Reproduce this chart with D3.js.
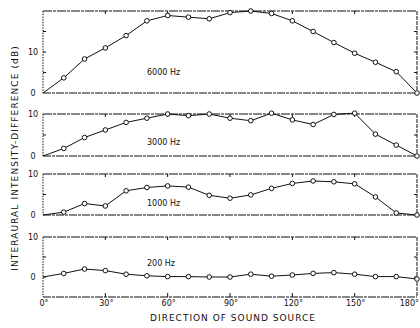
<!doctype html>
<html lang="en">
<head>
<meta charset="UTF-8">
<title>Interaural intensity difference</title>
<script src="https://cdn.jsdelivr.net/npm/d3@7"></script>
<style>
  body { margin: 0; background: #fff; }
  svg { display: block; font-family: "DejaVu Sans", Arial, sans-serif; }
  .frame line { stroke: #111; }
  .tick-lbl { font-size: 8px; fill: #111; }
</style>
</head>
<body>
<svg width="420" height="328"></svg>
<script>
// data, every 10 degrees
var angles = [0, 10, 20, 30, 40, 50, 60, 70, 80, 90, 100, 110, 120, 130, 140, 150, 160, 170, 180];
var db6000 = [0, 3.7, 8.3, 11.0, 14.0, 17.6, 18.9, 18.5, 18.1, 19.6, 20, 19.4, 17.6, 15.0, 12.3, 9.7, 7.5, 5.2, 0];
var db3000 = [0, 1.8, 4.4, 6.2, 8.0, 9.0, 10, 9.6, 10, 9.0, 8.4, 10.2, 8.6, 7.5, 9.9, 10.2, 5.2, 2.6, 0];
var db1000 = [0, 0.7, 2.8, 2.2, 5.9, 6.7, 7.1, 6.8, 4.8, 4.1, 4.9, 6.5, 7.7, 8.3, 8.1, 7.6, 4.4, 0.5, 0];
var db200  = [0, 0.9, 2.0, 1.6, 0.7, 0.3, 0.1, 0.1, 0, 0, 0.7, 0.2, 0.5, 0.9, 1.1, 0.7, 0.1, 0.1, -0.5];
var freqLabels = ['6000 Hz', '3000 Hz', '1000 Hz', '200 Hz'];
var xTicks = [0, 30, 60, 90, 120, 150, 180];

var svg = d3.select('svg');

var x = d3.scaleLinear().domain([0, 180]).range([43, 417]);

// panel layout (pixels) and value ranges
var panels = [
  { vals: db6000, dom: [0, 20], top: 11, bottom: 93, labels: [0, 10], minor: [5, 15], lx: 147, ly: 75 },
  { vals: db3000, dom: [0, 10], top: 114, bottom: 156, labels: [0, 10], minor: [5], lx: 147, ly: 145 },
  { vals: db1000, dom: [0, 10], top: 174, bottom: 215, labels: [0, 10], minor: [5], lx: 147, ly: 206 },
  { vals: db200, dom: [-5, 10], top: 237, bottom: 297, labels: [0, 10], minor: [5], lx: 147, ly: 266 }
];

var line = d3.line();

panels.forEach(function(p, i) {
  var y = d3.scaleLinear().domain(p.dom).range([p.bottom, p.top]);
  var g = svg.append('g').attr('class', 'frame');

  // frame
  g.append('line').attr('x1', x(0)).attr('x2', x(180)).attr('y1', p.top).attr('y2', p.top)
    .attr('stroke-width', 1.2).attr('stroke-dasharray', '9,1,3,1');
  g.append('line').attr('x1', x(0)).attr('x2', x(180)).attr('y1', p.bottom).attr('y2', p.bottom)
    .attr('stroke-width', 1.2).attr('stroke-dasharray', '8,1,3,1');
  g.append('line').attr('x1', x(0)).attr('x2', x(0)).attr('y1', p.top).attr('y2', p.bottom)
    .attr('stroke-width', 1).attr('stroke-dasharray', '1.5,1.2');
  g.append('line').attr('x1', x(180)).attr('x2', x(180)).attr('y1', p.top).attr('y2', p.bottom)
    .attr('stroke-width', 1).attr('stroke-dasharray', '4,1');

  // minor y ticks inside both sides
  p.minor.concat(p.labels.filter(function(v) { return v > p.dom[0] && v < p.dom[1]; })).forEach(function(v) {
    g.append('line').attr('x1', x(0)).attr('x2', x(0) + 3).attr('y1', y(v)).attr('y2', y(v)).attr('stroke-width', 1);
    g.append('line').attr('x1', x(180) - 3).attr('x2', x(180)).attr('y1', y(v)).attr('y2', y(v)).attr('stroke-width', 1);
  });

  // x ticks on top edge
  xTicks.slice(1, -1).forEach(function(a) {
    g.append('line').attr('x1', x(a)).attr('x2', x(a)).attr('y1', p.top).attr('y2', p.top + 3).attr('stroke-width', 1);
  });

  // y tick labels
  g.selectAll('text.tick-lbl').data(p.labels).enter().append('text')
    .attr('class', 'tick-lbl')
    .attr('x', 33).attr('y', function(v) { return y(v) + 3; })
    .attr('text-anchor', 'middle')
    .text(function(v) { return v; });

  // frequency label
  svg.append('text').attr('x', p.lx).attr('y', p.ly)
    .attr('font-size', 8).attr('fill', '#111')
    .text(freqLabels[i]);

  // data line
  var pts = angles.map(function(a, k) { return [x(a), y(p.vals[k])]; });
  svg.append('path').attr('d', line(pts))
    .attr('fill', 'none').attr('stroke', '#111').attr('stroke-width', 1);

  svg.append('g').selectAll('circle').data(pts.slice(1)).enter().append('circle')
    .attr('cx', function(d) { return d[0]; })
    .attr('cy', function(d) { return d[1]; })
    .attr('r', 2.3)
    .attr('fill', '#fff').attr('stroke', '#111').attr('stroke-width', 1);
});

// bottom x axis ticks and labels
var last = panels[panels.length - 1];
svg.append('g').selectAll('line').data(xTicks.slice(1, -1)).enter().append('line')
  .attr('x1', function(d) { return x(d); }).attr('x2', function(d) { return x(d); })
  .attr('y1', last.bottom - 4).attr('y2', last.bottom)
  .attr('stroke', '#111');

svg.append('g').selectAll('text').data(xTicks).enter().append('text')
  .attr('x', function(d) { return d === 180 ? 419 : x(d) + 1; })
  .attr('y', last.bottom + 9)
  .attr('text-anchor', function(d) { return d === 180 ? 'end' : 'middle'; })
  .attr('font-size', 8).attr('fill', '#111')
  .text(function(d) { return d + '\u00b0'; });

// axis titles
svg.append('text')
  .attr('x', 233).attr('y', 321)
  .attr('text-anchor', 'middle')
  .attr('font-size', 9).attr('letter-spacing', 1).attr('fill', '#111')
  .text('DIRECTION OF SOUND SOURCE');

svg.append('text')
  .attr('transform', 'translate(18,158) rotate(-90)')
  .attr('text-anchor', 'middle')
  .attr('font-size', 9).attr('letter-spacing', 1.1).attr('fill', '#111')
  .text('INTERAURAL INTENSITY-DIFFERENCE (dB)');
</script>
</body>
</html>
